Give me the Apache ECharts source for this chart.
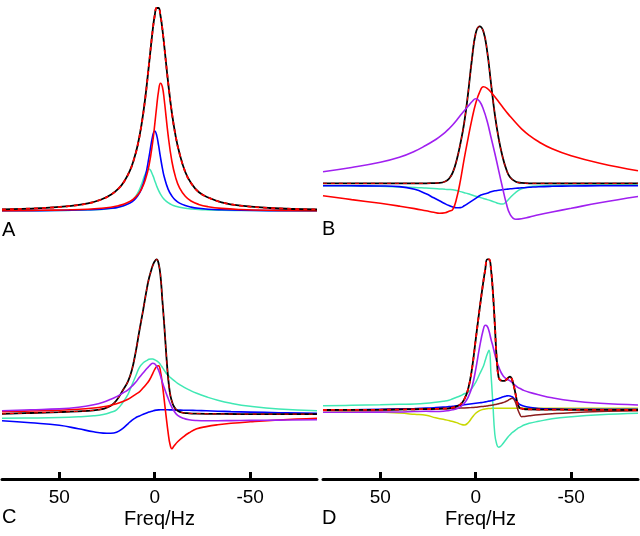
<!DOCTYPE html>
<html><head><meta charset="utf-8">
<script src="https://cdn.jsdelivr.net/npm/echarts@6/dist/echarts.min.js"></script>
<style>html,body{margin:0;padding:0;background:#fff}#c{width:640px;height:536px}</style>
</head><body><div id="c"></div>
<script>
// ---- Panel A ----
const fA = [80, 60, 45, 35, 28, 23, 19, 16, 13, 11, 9, 7, 5, 3, 1, 0, -1, -2, -3, -4, -5, -7, -9, -11, -13, -16, -19, -23, -28, -35, -45, -60, -85];
const aBlack = [1.6, 2.8, 4.8, 7.6, 11.5, 16.2, 22.4, 29.6, 40.3, 50.9, 65.2, 85.3, 112.4, 146.7, 182, 195.5, 203, 203, 195.5, 182, 165, 128.8, 97.8, 74.4, 57.5, 39, 28, 19, 13.5, 8.7, 5.3, 3.0, 1.5];
const aRed = [0.4, 0.7, 1.2, 1.8, 2.7, 3.8, 5.3, 7.0, 9.6, 12.2, 16.0, 21.7, 30.7, 45.5, 69.9, 86.3, 104.2, 119.9, 127.8, 124.2, 111, 76.1, 49.5, 33.1, 23.1, 14.7, 10.0, 6.6, 4.3, 2.6, 1.5, 0.8, 0.4];
const aBlue = [0.2, 0.4, 0.7, 1.2, 1.8, 2.7, 3.9, 5.4, 7.9, 10.6, 14.9, 21.9, 34.0, 53.8, 75.9, 80, 75.9, 65.8, 53.8, 42.9, 34.0, 21.9, 14.9, 10.6, 7.9, 5.4, 3.9, 2.7, 1.8, 1.2, 0.7, 0.4, 0.2];
const aCyan = [0.2, 0.3, 0.6, 1.0, 1.6, 2.5, 3.8, 5.5, 8.5, 12.0, 17.6, 26.1, 36.7, 42, 35.7, 30.3, 25.1, 20.6, 16.9, 13.9, 11.6, 8.3, 6.1, 4.7, 3.7, 2.7, 2.1, 1.5, 1.1, 0.7, 0.5, 0.3, 0.1];

// ---- Panel B ----
const fB = [80, 65, 50, 40, 32, 26, 22, 19, 16, 14, 12, 10, 8, 6, 4, 2, 0, -2, -4, -6, -8, -10, -12, -14, -16, -18, -21, -24, -28, -33, -40, -50, -65, -85];
const bBlack = [0, 0, 0, 0, 0, 0, 0.2, 0.4, 1.8, 4.5, 11, 23, 40, 61, 90, 124, 150, 157, 152, 132, 100, 69, 45, 27, 14, 6, 1.5, 0.4, 0, 0, 0, 0, 0, 0];
const bRed = [-12.4, -16.3, -20, -22.8, -25.3, -27.5, -29, -30, -29.5, -28, -26, -15, 3, 25, 45, 64, 80, 91, 96.5, 95, 91, 86.5, 81.5, 76.5, 71.5, 67, 60.5, 54.5, 48, 41.5, 34.5, 27.5, 20, 12.5];
const bPurple = [11.6, 15.8, 21, 26, 32, 38, 42.5, 46.5, 51, 54.5, 58.5, 63, 68, 72.5, 77, 81.5, 84.5, 82, 74, 62, 46, 30, 13, -4, -20, -31, -36, -35.5, -33.8, -31.5, -28.7, -25, -19.5, -13.2];
const bBlue = [-2.4, -2.5, -2.7, -3.3, -6, -10.5, -14.5, -17.5, -20.5, -22.3, -23.8, -24.5, -24.3, -22.5, -20, -17.5, -15, -12.5, -11, -10, -8.5, -7.5, -7, -6.5, -6, -5.5, -5, -4.5, -4, -3.4, -3, -2.7, -2.5, -2.4];
const bCyan = [-2.4, -2.6, -3, -3.6, -4.2, -4.8, -5.2, -5.6, -6, -6.2, -6.5, -7.3, -8.3, -9.4, -10.5, -11.7, -12.9, -14, -15.2, -16.3, -17.5, -18.8, -20.2, -20.8, -18.5, -14.5, -9, -5.5, -3.5, -2.6, -2.2, -2, -1.8, -1.7];

// ---- Panel C ----
const fC = [80, 65, 50, 40, 32, 27, 23, 20, 17, 14, 12, 10, 8, 6, 4, 3, 2, 1, 0, -1, -2, -3, -4, -5, -6, -7, -8, -9, -10, -12, -15, -18, -22, -27, -33, -40, -50, -65, -85];
const cBlack = [-0.5, 0.3, 1.2, 2, 3, 4.5, 7.5, 13, 22, 32, 43, 61, 83, 104, 126, 135, 142, 148, 152, 154, 150, 138, 113, 88, 60, 36, 20, 12, 7, 2.5, 0.5, 0, -0.3, -0.5, -0.6, -0.7, -0.8, -0.8, -0.8];
const cCyan = [-5, -4.7, -4.2, -3.5, -2.5, -1.2, 1, 3.5, 10, 19, 28, 37, 46, 50.5, 53, 54, 54.3, 54.2, 53.5, 52.5, 51, 48.7, 46, 43, 40, 38, 36, 34.5, 33, 30, 26.5, 23.5, 20, 16.5, 13, 10, 7, 4.2, 2.6];
const cPurple = [2.6, 3.5, 4.4, 6, 8.5, 11, 14, 16.7, 20, 23.5, 27, 31, 36, 40.5, 45, 47, 49, 50, 49.5, 47, 43, 37.5, 31, 25.5, 20, 15, 10, 6, 2.5, -2, -5, -6.5, -7.2, -7.4, -7.4, -7.3, -7.1, -6.8, -6.5];
const cRed = [1.6, 2.3, 3, 4, 5.3, 6.5, 8, 9.5, 11.5, 14, 16.5, 19, 21.5, 25.5, 30, 32.5, 36, 40, 44, 46.8, 47.6, 42, 29, 13, -3.5, -19, -31, -35.5, -33, -28.5, -23.5, -19.5, -15.5, -13.3, -11.5, -10, -8.5, -6.7, -5];
const cBlue = [-7.5, -9.5, -12, -15.5, -18.5, -19.8, -20, -19, -15.5, -10.5, -7, -4.5, -2.7, -1, 0.5, 1.2, 1.8, 2.4, 2.9, 3.2, 3.4, 3.5, 3.5, 3.5, 3.5, 3.5, 3.4, 3.4, 3.3, 3.2, 3.1, 3, 2.8, 2.5, 2.1, 1.7, 1.2, 0.6, 0];

// ---- Panel D ----
const fD = [80, 65, 50, 40, 32, 26, 21, 17, 14, 12, 10, 8, 6, 4, 2, 0, -2, -4, -5, -6, -7, -8, -9, -10, -11, -12, -13, -14, -15, -16, -17, -18, -19, -20, -21, -22, -23, -24, -25, -28, -33, -40, -50, -65, -85];
const dBlack = [-0.7, -0.6, -0.5, -0.3, 0, 0.2, 0.4, 0.6, 1, 1.8, 3, 5, 10, 20, 40, 70, 100, 128, 140, 150, 150, 140, 117, 85, 50, 32, 29, 28.5, 28.5, 29.5, 31.5, 32.6, 30, 23, 14, 5, 1.5, 0.8, 0.3, 0, -0.2, -0.3, -0.5, -0.6, -0.7];
const dPurple = [-3, -2.9, -2.8, -2.7, -2.2, -2, -2.2, -2, -1.2, -0.5, 0.5, 2.5, 6, 12, 22, 40, 62, 80, 84, 83, 78, 70, 63, 55, 48, 42.5, 38, 34.5, 32, 30.5, 29.5, 28.5, 27, 25, 23.5, 22, 21, 20, 19, 17, 14.5, 11.5, 8.5, 6, 4.3];
const dCyan = [3.6, 4, 4.5, 5, 5.3, 6, 7, 8, 9, 10.5, 12, 13.5, 15.5, 17, 21, 27, 35, 43, 49, 55, 59, 35, 5, -25, -35, -38, -37, -35, -32.5, -30, -27.5, -25.5, -23.5, -22, -20.5, -19, -18, -17, -16, -14, -12, -9.5, -7.5, -5.5, -4];
const dBlue = [-0.7, -0.5, 0, 0.4, 0.8, 1.2, 1.7, 2.2, 2.7, 3.1, 3.6, 4, 4.5, 5, 5.5, 6, 6.5, 7, 7.4, 7.8, 8.2, 8.6, 9.1, 9.6, 10.2, 10.8, 11.5, 12.2, 12.8, 13.3, 13.6, 13.3, 12.5, 11, 9, 6.8, 5, 4, 3.2, 2, 0.8, 0.3, 0, 0, 0];
const dBrown = [-0.7, -0.5, -0.3, 0, 0.2, 0.4, 0.6, 0.8, 0.9, 1, 1.1, 1.2, 1.3, 1.5, 1.8, 2.1, 2.5, 2.9, 3.1, 3.4, 3.7, 4, 4.3, 4.7, 5.1, 5.5, 6, 6.6, 7.2, 8, 9, 10.2, 11, 10, 6, 0, -4.5, -7.4, -7.2, -6.5, -5.5, -4.5, -3.4, -2.3, -1.4];
const dYellow = [-1.4, -2, -2.8, -3.8, -5, -6, -8.5, -10, -11.3, -12.2, -13.3, -14.8, -15.7, -13.5, -8.5, -4, -1.3, 0, 0.4, 0.6, 0.8, 0.9, 1, 1, 1, 1, 1, 1, 1, 1, 1, 1, 1, 1, 1, 1, 1, 1, 1, 1, 1, 1, 1, 1, 1];

const tickValues = [50, 0, -50];
const panelLetters = ['A', 'B', 'C', 'D'];
const axisName = 'Freq/Hz';

const FONT = '"Liberation Sans", Arial, Helvetica, sans-serif';
const COL = {black:'#000000', red:'#ff0000', blue:'#0000ff', cyan:'#40e8b4', purple:'#a020f0', brown:'#8b1c1c', yellow:'#c8d800'};

function pairs(f, v) { return f.map((x, i) => [x, v[i]]); }

const grids = [
  {left: 2, top: 0, width: 315, height: 230},
  {left: 323, top: 0, width: 315, height: 230},
  {left: 2, top: 240, width: 315, height: 239},
  {left: 323, top: 240, width: 315, height: 239}
];
const yRanges = [[-19, 211], [-46.7, 183.3], [-65.7, 173.3], [-69.7, 169.3]];

const xAxes = grids.map((g, i) => {
  const visible = i >= 2;
  return {
    gridIndex: i, type: 'value', min: -85, max: 80, inverse: true, show: visible,
    axisLine: {show: visible, onZero: false, lineStyle: {color: '#000', width: 3}},
    axisTick: {show: visible, inside: true, length: 7, customValues: tickValues, lineStyle: {color: '#000', width: 3}},
    axisLabel: {show: visible, customValues: tickValues, color: '#000', fontSize: 19, fontFamily: FONT, margin: 9},
    splitLine: {show: false},
    name: visible ? axisName : '', nameLocation: 'middle', nameGap: 30,
    nameTextStyle: {color: '#000', fontSize: 20, fontFamily: FONT}
  };
});
const yAxes = grids.map((g, i) => ({
  gridIndex: i, type: 'value', min: yRanges[i][0], max: yRanges[i][1], show: false,
  splitLine: {show: false}
}));

function line(idx, f, v, color, width, dashed) {
  return {
    type: 'line', xAxisIndex: idx, yAxisIndex: idx, data: pairs(f, v),
    showSymbol: false, symbol: 'none', smooth: 0.45,
    lineStyle: {color: color, width: width, type: dashed ? [4, 4] : 'solid'},
    emphasis: {disabled: true}, silent: true
  };
}

const series = [
  line(0, fA, aCyan, COL.cyan, 1.5),
  line(0, fA, aBlue, COL.blue, 1.6),
  line(0, fA, aRed, COL.red, 1.6),
  line(0, fA, aBlack, COL.black, 1.8),
  line(0, fA, aBlack, COL.red, 1.8, true),

  line(1, fB, bCyan, COL.cyan, 1.5),
  line(1, fB, bBlue, COL.blue, 1.6),
  line(1, fB, bBlack, COL.black, 1.8),
  line(1, fB, bBlack, COL.red, 1.0, true),
  line(1, fB, bRed, COL.red, 1.6),
  line(1, fB, bPurple, COL.purple, 1.6),

  line(2, fC, cBlue, COL.blue, 1.6),
  line(2, fC, cCyan, COL.cyan, 1.5),
  line(2, fC, cBlack, COL.black, 1.8),
  line(2, fC, cBlack, COL.red, 1.0, true),
  line(2, fC, cRed, COL.red, 1.6),
  line(2, fC, cPurple, COL.purple, 1.6),

  line(3, fD, dYellow, COL.yellow, 1.5),
  line(3, fD, dCyan, COL.cyan, 1.5),
  line(3, fD, dBlue, COL.blue, 1.6),
  line(3, fD, dBrown, COL.brown, 1.5),
  line(3, fD, dPurple, COL.purple, 1.6),
  line(3, fD, dBlack, COL.black, 1.8),
  line(3, fD, dBlack, COL.red, 1.8, true)
];

const letterPos = [[2, 220], [322, 219], [2, 507], [322, 508]];
const graphic = panelLetters.map((t, i) => ({
  type: 'text', left: letterPos[i][0], top: letterPos[i][1],
  style: {text: t, fontSize: 20, fontFamily: FONT, fill: '#000'}
}));

const chart = echarts.init(document.getElementById('c'), null, {renderer: 'canvas'});
chart.setOption({
  animation: false,
  backgroundColor: '#ffffff',
  grid: grids,
  xAxis: xAxes,
  yAxis: yAxes,
  series: series,
  graphic: graphic
});
</script></body></html>
